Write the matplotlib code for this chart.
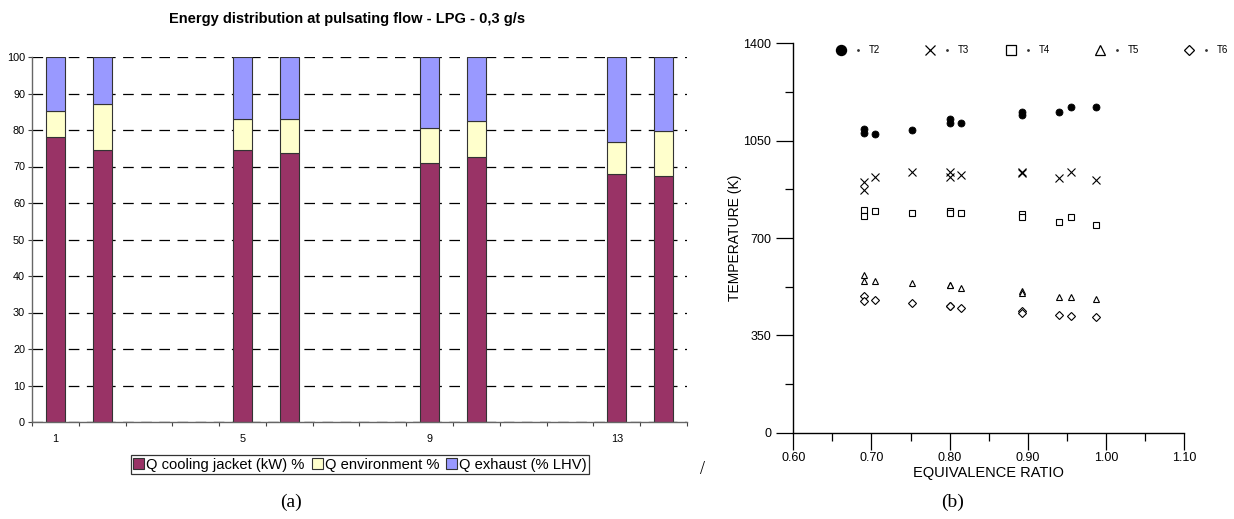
import numpy as np
import matplotlib
matplotlib.use("Agg")
import matplotlib.pyplot as plt
from matplotlib.patches import Patch

plt.rcParams['font.family'] = ['Liberation Sans', 'DejaVu Sans']

# ---------------- (a) energy distribution ----------------
categories = list(range(1, 15))
tick_labels = {1: "1", 5: "5", 9: "9", 13: "13"}
test_points = [1, 2, 5, 6, 9, 10, 13, 14]
q_cooling = [78.2, 74.4, 74.6, 73.6, 70.9, 72.6, 67.9, 67.4]
q_environment = [7.0, 12.8, 8.5, 9.3, 9.6, 9.8, 8.8, 12.2]
q_exhaust = [14.8, 12.8, 16.9, 17.1, 19.5, 17.6, 23.3, 20.4]
series_names = ["Q cooling jacket (kW) %", "Q environment %", "Q exhaust (% LHV)"]
series_colors = ["#993366", "#FFFFCC", "#9999FF"]

# ---------------- (b) temperatures vs equivalence ratio ----------------
phi = [0.690, 0.690, 0.705, 0.752, 0.800, 0.800, 0.815, 0.893, 0.893, 0.940, 0.955, 0.987]
T2 = [1091, 1077, 1075, 1088, 1127, 1115, 1114, 1154, 1142, 1154, 1172, 1170]
T3 = [902, 873, 918, 938, 936, 921, 927, 937, 935, 915, 936, 909]
T4 = [801, 779, 797, 791, 797, 791, 791, 785, 777, 758, 776, 748]
T5 = [567, 547, 547, 537, 530, 530, 520, 508, 501, 487, 487, 480]
T6 = [492, 474, 477, 465, 457, 455, 450, 438, 430, 423, 420, 417]
temp_names = ["T2", "T3", "T4", "T5", "T6"]

fig = plt.figure(figsize=(12.34, 5.19), dpi=100)

# ---- left panel ----
axa = fig.add_axes([32 / 1234, 1 - 422 / 519, 655 / 1234, 365 / 519])
axa.set_xlim(0.5, 14.5)
axa.set_ylim(0, 100)
axa.set_axisbelow(True)
axa.yaxis.grid(True, color="black", linewidth=0.9, linestyle=(0, (8.5, 6)))
width = 0.4
edge = "#333333"
b1 = axa.bar(test_points, q_cooling, width, color=series_colors[0], edgecolor=edge, linewidth=0.8)
b2 = axa.bar(test_points, q_environment, width, bottom=q_cooling,
             color=series_colors[1], edgecolor=edge, linewidth=0.8)
bottom3 = np.array(q_cooling) + np.array(q_environment)
b3 = axa.bar(test_points, q_exhaust, width, bottom=bottom3,
             color=series_colors[2], edgecolor=edge, linewidth=0.8)

for s in ["top", "right"]:
    axa.spines[s].set_visible(False)
for s in ["left", "bottom"]:
    axa.spines[s].set_color("#666666")
    axa.spines[s].set_linewidth(1.0)
axa.set_yticks(np.arange(0, 101, 10))
axa.tick_params(axis="y", labelsize=7.8, length=3, width=0.8, color="#444444", pad=2)
axa.set_xticks(np.arange(0.5, 15, 1.0))
axa.set_xticklabels([])
axa.tick_params(axis="x", which="major", length=3, width=0.8, color="#444444")
axa.set_xticks(list(tick_labels.keys()), minor=True)
axa.set_xticklabels(list(tick_labels.values()), minor=True)
axa.tick_params(axis="x", which="minor", length=0, labelsize=7.8, pad=9)

fig.text(347 / 1234, 1 - 19 / 519, "Energy distribution at pulsating flow - LPG - 0,3 g/s",
         ha="center", va="center", fontsize=10.5, fontweight="bold")

handles = [Patch(facecolor=c, edgecolor="#333333", linewidth=0.8) for c in series_colors]
leg = fig.legend(handles, series_names, loc="center", bbox_to_anchor=(360 / 1234, 1 - 464.5 / 519),
                 ncol=3, fontsize=10.6, frameon=True, fancybox=False, edgecolor="black",
                 handlelength=0.75, handleheight=0.75, handletextpad=0.15, columnspacing=0.45,
                 borderpad=0.15, borderaxespad=0)
leg.get_frame().set_linewidth(0.9)

# ---- right panel ----
axb = fig.add_axes([793.3 / 1234, 1 - 432.7 / 519, 391 / 1234, 389.4 / 519])
axb.set_xlim(0.60, 1.10)
axb.set_ylim(0, 1400)
styles = [
    dict(marker="o", ms=5.0, mfc="black", mec="black", mew=0.6),
    dict(marker="x", ms=5.8, mec="black", mew=0.8),
    dict(marker="s", ms=5.0, mfc="white", mec="black", mew=0.8),
    dict(marker="^", ms=4.8, mfc="white", mec="black", mew=0.8),
    dict(marker="D", ms=3.9, mfc="white", mec="black", mew=0.8),
]
for vals, st in zip([T2, T3, T4, T5, T6], styles):
    axb.plot(phi, vals, linestyle="none", **st)

for s in ["top", "right"]:
    axb.spines[s].set_visible(False)
for s in ["left", "bottom"]:
    axb.spines[s].set_linewidth(1.0)
axb.set_yticks([0, 350, 700, 1050, 1400])
axb.set_yticks([175, 525, 875, 1225], minor=True)
axb.set_xticks([0.60, 0.70, 0.80, 0.90, 1.00, 1.10])
axb.set_xticklabels(["0.60", "0.70", "0.80", "0.90", "1.00", "1.10"])
axb.set_xticks([0.65, 0.75, 0.85, 0.95, 1.05], minor=True)
axb.tick_params(axis="both", which="major", length=12, width=0.9, labelsize=9)
axb.tick_params(axis="both", which="minor", length=6, width=0.9)
axb.tick_params(axis="y", which="major", pad=4)
axb.tick_params(axis="x", which="major", pad=2)
axb.set_xlabel("EQUIVALENCE RATIO", fontsize=10.5, labelpad=1)
axb.set_ylabel("TEMPERATURE (K)", fontsize=10, labelpad=1)

# legend row drawn along the top of the panel
leg_marker_x = [840.7, 930.0, 1011.0, 1100.0, 1189.0]
leg_styles = [
    dict(marker="o", ms=7.2, mfc="black", mec="black"),
    dict(marker="x", ms=7.6, mec="black", mew=0.9),
    dict(marker="s", ms=7.5, mfc="white", mec="black", mew=0.9),
    dict(marker="^", ms=6.5, mfc="white", mec="black", mew=0.9),
    dict(marker="D", ms=5.4, mfc="white", mec="black", mew=0.9),
]
ly = (432.7 - 50) / 389.4
for px, st, name in zip(leg_marker_x, leg_styles, temp_names):
    xa = (px - 793.3) / 391
    axb.plot([xa], [ly], transform=axb.transAxes, clip_on=False, linestyle="none", **st)
    axb.plot([xa + 17 / 391], [ly], transform=axb.transAxes, clip_on=False,
             marker="o", ms=1.0, color="#333333", linestyle="none")
    axb.text(xa + 28 / 391, ly, name, transform=axb.transAxes, fontsize=7,
             ha="left", va="center")

# panel captions
fig.text(291 / 1234, 1 - 502 / 519, "(a)", ha="center", va="center", fontsize=14,
         family="Liberation Serif")
fig.text(953 / 1234, 1 - 502 / 519, "(b)", ha="center", va="center", fontsize=14,
         family="Liberation Serif")
fig.text(703 / 1234, 1 - 470 / 519, "/", ha="center", va="center", fontsize=13,
         family="Liberation Serif")

fig.savefig("out.png", dpi=100)
